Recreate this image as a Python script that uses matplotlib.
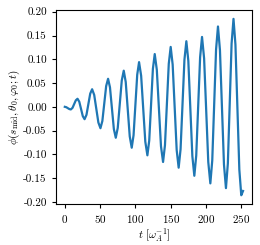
import matplotlib
matplotlib.use('Agg')
import matplotlib.pyplot as plt

plt.rcParams['font.family'] = 'serif'
plt.rcParams['font.serif'] = ['cmr10', 'DejaVu Serif']
plt.rcParams['mathtext.fontset'] = 'cm'
plt.rcParams['axes.formatter.use_mathtext'] = True

# values (extrema, zero crossings and points in between)
t = [0, 2.1, 4.25, 6.4, 8.5,
     10.9, 13.25, 15.6, 18,
     20.5, 23, 25.5, 28,
     30.7, 33.35, 36.0, 38.7,
     41.65, 44.6, 47.55, 50.5,
     53.2, 55.9, 58.6, 61.3,
     64.0, 66.75, 69.5, 72.2,
     75.0, 77.85, 80.7, 83.5,
     86.3, 89.15, 92.0, 94.8,
     97.4, 100.0, 102.6, 105.2,
     108.15, 111.1, 114.05, 117,
     119.6, 122.2, 124.8, 127.4,
     130.35, 133.3, 136.25, 139.2,
     141.9, 144.6, 147.3, 150,
     152.8, 155.65, 158.5, 161.3,
     164.0, 166.75, 169.5, 172.2,
     175.0, 177.85, 180.7, 183.5,
     186.2, 188.95, 191.7, 194.4,
     197.35, 200.3, 203.25, 206.2,
     208.9, 211.6, 214.3, 217,
     219.8, 222.65, 225.5, 228.3,
     231.0, 233.65, 236.3, 239,
     241.75, 244.5, 247.25, 250,
     252.5]
phi = [0.0, -0.0008, -0.0028, -0.0047, -0.0055,
       -0.0022, 0.0058, 0.0137, 0.017,
       0.0107, -0.0045, -0.0197, -0.026,
       -0.0168, 0.0055, 0.0278, 0.037,
       0.025, -0.004, -0.033, -0.045,
       -0.0298, 0.007, 0.0438, 0.059,
       0.0409, -0.003, -0.0469, -0.065,
       -0.0444, 0.0055, 0.0554, 0.076,
       0.0523, -0.005, -0.0623, -0.086,
       -0.0597, 0.004, 0.0677, 0.094,
       0.0654, -0.004, -0.0734, -0.102,
       -0.0709, 0.0045, 0.0799, 0.111,
       0.0779, -0.0025, -0.0829, -0.116,
       -0.0807, 0.005, 0.0907, 0.126,
       0.0889, -0.001, -0.0909, -0.128,
       -0.0892, 0.005, 0.0992, 0.138,
       0.0967, -0.0035, -0.1037, -0.145,
       -0.1024, 0.001, 0.1044, 0.147,
       0.102, -0.007, -0.116, -0.161,
       -0.1128, 0.004, 0.1208, 0.169,
       0.1194, -0.001, -0.1214, -0.171,
       -0.119, 0.007, 0.133, 0.185,
       0.1308, -0.0005, -0.1318, -0.186,
       -0.177]

fig = plt.figure(figsize=(2.6, 2.45), dpi=100)
ax = fig.add_axes([0.215, 0.167, 0.754, 0.792])
ax.plot(t, phi, color='#1f77b4', lw=1.6)

ax.set_xticks([0, 50, 100, 150, 200, 250])
ax.set_yticks([-0.2, -0.15, -0.1, -0.05, 0.0, 0.05, 0.1, 0.15, 0.2])
ax.yaxis.set_major_formatter(plt.FormatStrFormatter('%.2f'))
ax.tick_params(labelsize=8, length=3, width=0.8)
ax.set_xlabel(r'$t\ [\omega_A^{-1}]$', fontsize=8, labelpad=1)
ax.set_ylabel(r'$\phi(s_\mathrm{mid}, \theta_0, \varphi_0; t)$', fontsize=8, labelpad=1)

fig.savefig('out.png', dpi=100)
